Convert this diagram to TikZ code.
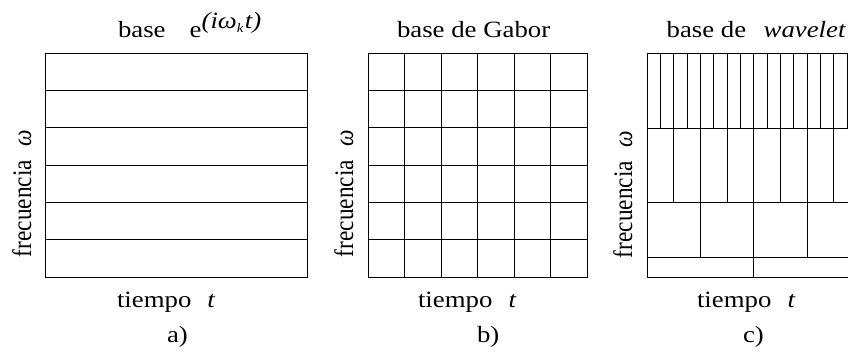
\documentclass[tikz,border=0pt]{standalone}
\usepackage{graphicx}
\usepackage{fontspec}
\setmainfont{Liberation Serif}
\newcommand{\sx}[1]{\scalebox{1.15}[1]{#1}}
\newcommand{\sy}[1]{\scalebox{1}[1.15]{#1}}
\tikzset{
  lbl/.style={inner sep=0pt, outer sep=0pt, font=\fontsize{23.3}{28}\selectfont},
  grid/.style={line width=0.9pt, draw=black}
}
\begin{document}
\begin{tikzpicture}[x=1pt,y=-1pt]
\useasboundingbox (0,0) rectangle (848,356);
\clip (0,0) rectangle (848,356);
% ---- panel a ----
\draw[grid] (45,53) rectangle (307,277);
\foreach \k in {1,...,5} {
  \draw[grid] (45,{53+37.33*\k}) -- (307,{53+37.33*\k});
}
\node[lbl, anchor=base west] (ta) at (118,37) {\sx{base\hspace{0.9em}e\raisebox{9pt}{\textit{(iω}\raisebox{-4pt}{\fontsize{13}{13}\selectfont\textit{k}}\hspace{1pt}\textit{t)}}}};
\node[lbl, anchor=base west, rotate=90] (fa) at (31,257) {\sy{frecuencia\hspace{0.6em}\textit{ω}}};
\node[lbl, anchor=base west] (xa) at (117,307) {\sx{tiempo\hspace{0.6em}\textit{t}}};
\node[lbl, anchor=base west] (la) at (167,342) {\sx{a)}};
% ---- panel b ----
\draw[grid] (368,53) rectangle (587,277);
\foreach \k in {1,...,5} {
  \draw[grid] (368,{53+37.33*\k}) -- (587,{53+37.33*\k});
  \draw[grid] ({368+36.5*\k},53) -- ({368+36.5*\k},277);
}
\node[lbl, anchor=base west] (tb) at (397,37) {\sx{base de Gabor}};
\node[lbl, anchor=base west, rotate=90] (fb) at (353,257) {\sy{frecuencia\hspace{0.6em}\textit{ω}}};
\node[lbl, anchor=base west] (xb) at (418,307) {\sx{tiempo\hspace{0.6em}\textit{t}}};
\node[lbl, anchor=base west] (lb) at (477,342) {\sx{b)}};
% ---- panel c (wavelet, cropped at right) ----
\draw[grid] (860,53) -- (647,53) -- (647,277) -- (860,277);
\draw[grid] (647,128) -- (860,128);
\draw[grid] (647,202) -- (860,202);
\draw[grid] (647,257) -- (860,257);
\foreach \k in {1,...,15} {
  \draw[grid] ({647+13.33*\k},53) -- ({647+13.33*\k},128);
}
\foreach \k in {2,4,...,14} {
  \draw[grid] ({647+13.33*\k},128) -- ({647+13.33*\k},202);
}
\foreach \k in {4,8,12} {
  \draw[grid] ({647+13.33*\k},202) -- ({647+13.33*\k},257);
}
\draw[grid] ({647+13.33*8},257) -- ({647+13.33*8},277);
\node[lbl, anchor=base east] (tc) at (846,37) {\sx{base de\hspace{0.65em}\textit{wavelet}}};
\node[lbl, anchor=base west, rotate=90] (fc) at (632,258) {\sy{frecuencia\hspace{0.6em}\textit{ω}}};
\node[lbl, anchor=base west] (xc) at (697,307) {\sx{tiempo\hspace{0.6em}\textit{t}}};
\node[lbl, anchor=base west] (lc) at (743,342) {\sx{c)}};
\end{tikzpicture}
\end{document}
